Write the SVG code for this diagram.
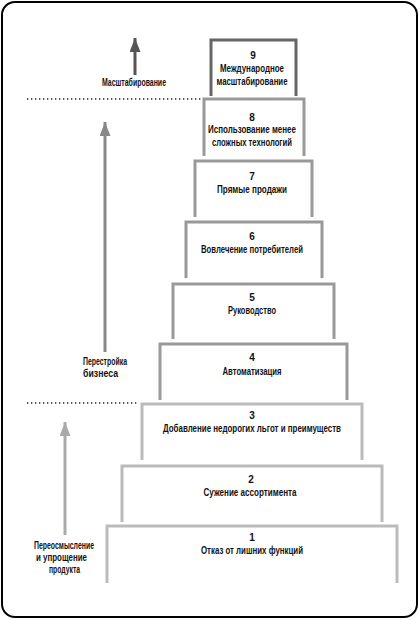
<svg xmlns="http://www.w3.org/2000/svg" width="419" height="620" viewBox="0 0 419 620">
<style>
.frame{fill:#fff;stroke:#000;stroke-width:2}
.st{fill:none;stroke-width:3;stroke-linejoin:miter}
.s9{stroke:#666}
.sm{stroke:#999}
.sl{stroke:#bbb}
text{font-family:"Liberation Sans Narrow","Liberation Sans",Arial,sans-serif;font-weight:bold;font-size:10px;fill:#111;text-anchor:middle}
.dots{stroke:#222;stroke-width:1.3;stroke-dasharray:1.3 2.7;fill:none}
</style>
<defs>
<marker id="ad" viewBox="0 0 14 11" refX="14" refY="5.5" markerWidth="14" markerHeight="11" markerUnits="userSpaceOnUse" orient="auto"><path d="M0 0 L14 5.5 L0 11 Z" fill="#555"/></marker>
<marker id="am" viewBox="0 0 14 11" refX="14" refY="5.5" markerWidth="14" markerHeight="11" markerUnits="userSpaceOnUse" orient="auto"><path d="M0 0 L14 5.5 L0 11 Z" fill="#888"/></marker>
<marker id="al" viewBox="0 0 14 11" refX="14" refY="5.5" markerWidth="14" markerHeight="11" markerUnits="userSpaceOnUse" orient="auto"><path d="M0 0 L14 5.5 L0 11 Z" fill="#aaa"/></marker>
</defs>
<rect class="frame" x="2" y="2" width="415" height="615" rx="13" ry="13"/>

<g id="connectors">
<line x1="135" y1="75" x2="135" y2="38" stroke="#555" stroke-width="3" marker-end="url(#ad)"/>
<line x1="105" y1="352" x2="105" y2="122" stroke="#888" stroke-width="3" marker-end="url(#am)"/>
<line x1="65" y1="535" x2="65" y2="422" stroke="#aaa" stroke-width="3" marker-end="url(#al)"/>
<line class="dots" x1="27" y1="99" x2="201" y2="99"/>
<line class="dots" x1="27" y1="403" x2="138" y2="403"/>
</g>

<g id="label-scale"><text x="134" y="86" textLength="64" lengthAdjust="spacingAndGlyphs">Масштабирование</text></g>
<g id="label-restructure">
<text x="105" y="365" textLength="44" lengthAdjust="spacingAndGlyphs">Перестройка</text>
<text x="83" y="377" style="text-anchor:start" textLength="35" lengthAdjust="spacingAndGlyphs">бизнеса</text>
</g>
<g id="label-rethink">
<text x="64" y="549" textLength="60" lengthAdjust="spacingAndGlyphs">Переосмысление</text>
<text x="61.5" y="561" textLength="51" lengthAdjust="spacingAndGlyphs">и упрощение</text>
<text x="64.5" y="573" textLength="31" lengthAdjust="spacingAndGlyphs">продукта</text>
</g>

<g id="step1">
<path class="st sl" d="M107 583 V526 H397 V583"/>
<text x="252" y="541">1</text>
<text x="252" y="554" textLength="102" lengthAdjust="spacingAndGlyphs">Отказ от лишних функций</text>
</g>
<g id="step2">
<path class="st sl" d="M122 522 V466 H382 V522"/>
<text x="251" y="483">2</text>
<text x="250" y="496" textLength="93" lengthAdjust="spacingAndGlyphs">Сужение ассортимента</text>
</g>
<g id="step3">
<path class="st sl" d="M142 460 V404 H362 V460"/>
<text x="252" y="419">3</text>
<text x="252" y="432" textLength="178" lengthAdjust="spacingAndGlyphs">Добавление недорогих льгот и преимуществ</text>
</g>
<g id="step4">
<path class="st sm" d="M160 400 V344 H347 V400"/>
<text x="252" y="361">4</text>
<text x="252" y="375" textLength="59" lengthAdjust="spacingAndGlyphs">Автоматизация</text>
</g>
<g id="step5">
<path class="st sm" d="M173 339 V284 H334 V339"/>
<text x="252" y="301">5</text>
<text x="252" y="314" textLength="48" lengthAdjust="spacingAndGlyphs">Руководство</text>
</g>
<g id="step6">
<path class="st sm" d="M186 278 V222 H322 V278"/>
<text x="252" y="240">6</text>
<text x="252" y="253" textLength="102" lengthAdjust="spacingAndGlyphs">Вовлечение потребителей</text>
</g>
<g id="step7">
<path class="st sm" d="M195 217 V161 H312 V217"/>
<text x="252" y="180">7</text>
<text x="252" y="193" textLength="70" lengthAdjust="spacingAndGlyphs">Прямые продажи</text>
</g>
<g id="step8">
<path class="st sm" d="M204 156 V99 H304 V156"/>
<text x="252" y="121">8</text>
<text x="252" y="133" textLength="88" lengthAdjust="spacingAndGlyphs">Использование менее</text>
<text x="252" y="146" textLength="80" lengthAdjust="spacingAndGlyphs">сложных технологий</text>
</g>
<g id="step9">
<path class="st s9" d="M211 96 V40 H296 V96"/>
<text x="253" y="59">9</text>
<text x="252" y="72" textLength="64" lengthAdjust="spacingAndGlyphs">Международное</text>
<text x="252" y="85" textLength="71" lengthAdjust="spacingAndGlyphs">масштабирование</text>
</g>
</svg>
